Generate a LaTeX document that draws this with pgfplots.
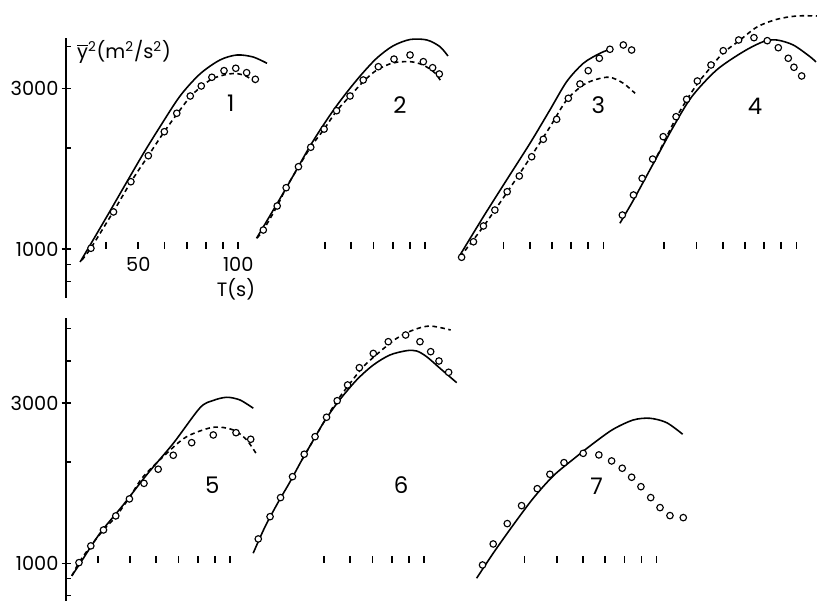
\documentclass[border=0pt]{standalone}
\usepackage{fontspec}
\setmainfont{Poppins}
\usepackage{pgfplots}
\pgfplotsset{compat=1.18}

% x is log10(T) plus a shift for each panel, y is logarithmic
\pgfplotsset{
  table/sh/.style={x expr={ln(\thisrow{T})*0.4342945+#1}, y=Y},
  th/.style={black, line width=0.9pt, smooth, no marks},
  th2/.style={black, line width=0.9pt, smooth, no marks, dash pattern=on 2.6pt off 2pt},
  obs/.style={only marks, mark=*, mark size=1.85pt,
    mark options={fill=white, draw=black, line width=0.65pt}},
  tk/.style={only marks, mark=|, mark size=2.1pt, mark options={line width=1pt, black}},
}
\newcommand\pnum{\fontsize{13}{15}\selectfont}
\newcommand\tfont{\fontsize{11}{13}\selectfont}

\begin{document}
\begin{tikzpicture}
\path[use as bounding box] (0,0) rectangle (16.36,12.02);

% ---------------- top row: runs 1-4
\begin{axis}[at={(1.32cm,6.06cm)}, anchor=south west,
  scale only axis, width=15.04cm, height=5.2cm,
  xmin=1.4812, xmax=3.7463, ymode=log, ymin=715, ymax=4246,
  clip=false, axis x line=none, axis y line*=left,
  axis line style={line width=0.9pt},
  ytick={800,900,2000,4000}, yticklabels={}, yminorticks=false,
  tick align=inside, major tick length=0.1cm,
  tick style={line width=0.8pt, black},
  extra y ticks={1000,3000}, extra y tick labels={1000,3000},
  extra y tick style={tick align=center, major tick length=0.18cm},
  yticklabel style={font=\tfont, inner xsep=1.5pt}]
% run 1
\addplot[th] table[sh=0] {
T Y
33.4 915
37.0 1086
41.1 1297
45.6 1550
51.7 1918
58.1 2310
66.8 2853
76.7 3318
88.1 3652
99.1 3779
110.8 3728
122.1 3570
};
\addplot[th2] table[sh=0] {
T Y
33.8 927
36.0 1007
42.0 1289
47.5 1583
53.5 1891
59.8 2230
65.4 2522
71.6 2834
77.2 3035
83.3 3206
90.6 3295
97.8 3329
105.5 3273
113.1 3119
};
\addplot[obs] table[sh=0] {
T Y
36.0 1005
42.1 1289
47.5 1586
53.6 1895
59.9 2234
65.3 2535
71.7 2853
77.4 3056
83.3 3244
90.6 3394
98.3 3450
106.0 3348
112.6 3199
};
\addplot[tk] table[sh=0] {
T Y
40 1024
50 1024
60 1024
70 1024
80 1024
90 1024
100 1024
};
% run 2
\addplot[th] table[sh=0.5623] {
T Y
31.1 1076
34.1 1254
37.9 1498
41.5 1754
45.1 2026
49.0 2307
53.6 2628
58.6 2953
64.6 3318
71.7 3702
80.1 4020
90.2 4202
101.4 4188
111.0 4000
117.3 3753
};
\addplot[th2] table[sh=0.5623] {
T Y
31.2 1078
32.6 1139
35.9 1343
38.2 1520
41.6 1754
45.3 2012
49.7 2274
54.2 2575
59.5 2853
65.5 3162
71.7 3410
80.1 3578
90.2 3610
98.7 3529
107.2 3341
112.6 3119
};
\addplot[obs] table[sh=0.5623] {
T Y
32.6 1139
35.9 1343
38.2 1522
41.6 1758
45.3 2008
49.7 2274
54.2 2580
59.5 2853
65.2 3184
72.4 3488
80.7 3674
90.2 3779
98.9 3610
105.5 3464
110.5 3318
};
\addplot[tk] table[sh=0.5623] {
T Y
50 1024
60 1024
70 1024
80 1024
90 1024
100 1024
};
% run 3
\addplot[th] table[sh=1.1] {
T Y
37.0 960
43.5 1248
51.1 1605
60.1 2064
69.0 2593
77.5 3147
87.0 3570
97.6 3823
106.1 3951
};
\addplot[th2] table[sh=1.1] {
T Y
37.0 947
43.4 1163
51.1 1468
60.1 1866
69.0 2307
77.5 2776
87.0 3077
95.4 3199
104.6 3244
114.8 3113
124.5 2907
};
\addplot[obs] table[sh=1.1] {
T Y
37.4 945
40.6 1051
43.5 1171
47.1 1306
51.3 1481
55.8 1649
60.8 1882
65.9 2121
72.3 2432
78.4 2809
85.0 3098
90.0 3394
97.2 3695
104.6 3930
114.8 4047
121.6 3911
};
\addplot[tk] table[sh=1.1] {
T Y
50 1024
60 1024
70 1024
80 1024
90 1024
100 1024
};
% run 4
\addplot[th] table[sh=1.6813] {
T Y
29.4 1193
32.3 1399
37.1 1799
42.6 2312
48.4 2840
57.5 3410
69.2 3866
79.5 4140
87.2 4188
97.8 4047
109.9 3735
114.5 3602
};
\addplot[th2] table[sh=1.6813] {
T Y
37.1 1799
40.2 2111
43.4 2454
46.7 2776
50.5 3119
55.3 3481
60.1 3831
67.1 4160
76.1 4578
87.4 4827
100.4 4937
115.3 4937
};
\addplot[obs] table[sh=1.6813] {
T Y
29.9 1262
32.3 1448
34.3 1623
36.9 1852
39.7 2159
43.4 2476
46.7 2790
50.3 3162
55.3 3529
60.2 3892
67.0 4188
74.5 4255
81.7 4168
88.2 3973
94.5 3695
98.3 3474
103.7 3273
};
\addplot[tk] table[sh=1.6813] {
T Y
40 1024
50 1024
60 1024
70 1024
80 1024
90 1024
100 1024
};
% labels
\node[font=\tfont] at (axis cs:1.699,900) {50};
\node[font=\tfont] at (axis cs:2.0,900) {100};
\node[font=\tfont] at (axis cs:1.9933,759) {T(s)};
\node[font=\tfont] at (rel axis cs:0.0771,0.946)
  {$\overline{\mbox{y}}$\textsuperscript{2}(m\textsuperscript{2}/s\textsuperscript{2})};
\node[font=\pnum] at (rel axis cs:0.2190,0.750) {1};
\node[font=\pnum] at (rel axis cs:0.4441,0.7423) {2};
\node[font=\pnum] at (rel axis cs:0.7078,0.7423) {3};
\node[font=\pnum] at (rel axis cs:0.9162,0.7385) {4};
\end{axis}

% ---------------- bottom row: runs 5-7
\begin{axis}[at={(1.32cm,0cm)}, anchor=south west,
  scale only axis, width=15.04cm, height=5.66cm,
  xmin=1.4812, xmax=3.7463, ymode=log, ymin=772, ymax=5372,
  clip=false, axis x line=none, axis y line*=left,
  axis line style={line width=0.9pt},
  ytick={800,900,2000,4000,5000}, yticklabels={}, yminorticks=false,
  tick align=inside, major tick length=0.1cm,
  tick style={line width=0.8pt, black},
  extra y ticks={1000,3000}, extra y tick labels={1000,3000},
  extra y tick style={tick align=center, major tick length=0.18cm},
  yticklabel style={font=\tfont, inner xsep=1.5pt}]
% run 5
\addplot[th] table[sh=-0.025] {
T Y
33.4 917
35.4 1000
40.6 1228
47.7 1491
56.1 1832
67.5 2274
81.2 2900
88.9 3050
97.8 3119
107.2 3062
117.6 2893
};
\addplot[th2] table[sh=-0.025] {
T Y
33.4 917
35.1 1004
38.1 1126
41.6 1256
45.3 1376
50.0 1578
54.8 1810
64.5 2124
74.1 2381
89.1 2540
102.4 2493
112.3 2328
119.8 2124
};
\addplot[obs] table[sh=-0.025] {
T Y
35.1 1004
38.1 1126
41.6 1256
45.3 1383
49.8 1554
55.1 1729
60.8 1905
67.5 2096
76.7 2285
89.1 2409
104.3 2447
115.5 2339
};
\addplot[tk] table[sh=-0.025] {
T Y
40 1024
50 1024
60 1024
70 1024
80 1024
90 1024
100 1024
};
% run 6
\addplot[th] table[sh=0.5593] {
T Y
30.6 1071
33.2 1282
36.3 1512
39.5 1746
42.9 2030
46.3 2312
50.0 2634
55.1 3020
62.7 3512
70.4 3892
79.0 4168
88.7 4293
95.1 4284
101.9 4120
111.8 3805
125.5 3448
};
\addplot[th2] table[sh=0.5593] {
T Y
42.9 2030
46.3 2312
50.0 2634
54.7 3041
59.9 3431
65.7 3847
73.7 4264
82.8 4673
92.9 4947
104.3 5084
120.4 4947
};
\addplot[obs] table[sh=0.5593] {
T Y
31.7 1181
34.4 1376
37.0 1568
40.2 1810
43.6 2111
47.0 2381
50.9 2720
54.8 3047
58.9 3394
63.9 3821
70.4 4213
78.1 4566
88.1 4780
97.3 4566
104.8 4264
111.0 4000
118.7 3702
};
\addplot[tk] table[sh=0.5593] {
T Y
50 1024
60 1024
70 1024
80 1024
90 1024
100 1024
};
% run 7
\addplot[th] table[sh=1.2602] {
T Y
28.7 902
32.2 1071
37.0 1300
42.5 1561
48.8 1819
56.1 2040
64.5 2274
74.0 2505
85.1 2670
95.5 2701
107.2 2621
119.8 2421
};
\addplot[obs] table[sh=1.2602] {
T Y
29.9 988
32.2 1141
35.5 1312
39.2 1484
43.7 1667
47.7 1840
52.6 1993
60.1 2124
67.0 2101
73.2 2016
78.8 1918
84.1 1803
89.7 1690
96.0 1568
102.4 1464
109.7 1386
120.3 1367
};
\addplot[tk] table[sh=1.2602] {
T Y
40 1024
50 1024
60 1024
70 1024
80 1024
90 1024
100 1024
};
\node[font=\pnum] at (rel axis cs:0.1946,0.4099) {5};
\node[font=\pnum] at (rel axis cs:0.4455,0.4099) {6};
\node[font=\pnum] at (rel axis cs:0.7057,0.4064) {7};
\end{axis}
\end{tikzpicture}
\end{document}
